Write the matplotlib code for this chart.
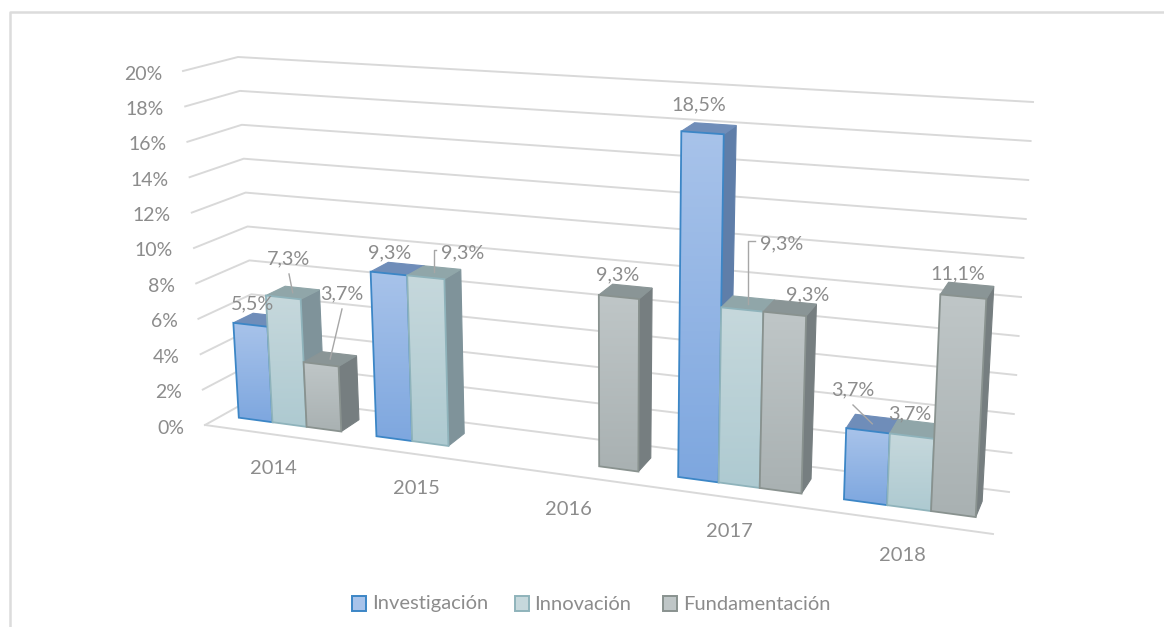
import numpy as np
import matplotlib
matplotlib.use('Agg')
import matplotlib.pyplot as plt
from matplotlib.patches import Polygon, Rectangle

plt.rcParams['font.family'] = ['Lato', 'DejaVu Sans']

years = ['2014', '2015', '2016', '2017', '2018']
series = ['Investigación', 'Innovación', 'Fundamentación']
investigacion = [5.5, 9.3, None, 18.5, 3.7]
innovacion = [7.3, 9.3, None, 9.3, 3.7]
fundamentacion = [3.7, None, 9.3, 9.3, 11.1]
yticks = [0, 2, 4, 6, 8, 10, 12, 14, 16, 18, 20]

# corners of the 3d box in image pixels: (x, y) at 0% and at 20%
front_left = ((205, 425), (183, 71))
front_right = ((993, 534), (1012, 128))
back_left = ((257, 396), (238, 57))
back_right = ((1009, 492), (1033, 102))
persp = 1.17
height_fix = 0.985  # plain bilinear box runs a little tall at the bars

# colours: front top, front bottom, edge, side, top
colors = [
    ('#a8c3ea', '#7ea7df', '#3c86c6', '#5f7ea9', '#6f8db9'),
    ('#c6d8dc', '#aecad1', '#8fb3bb', '#7f939a', '#90a6a9'),
    ('#bfc6c7', '#a9b1b2', '#89928f', '#767e80', '#8a9596'),
]
text_color = '#8c8c8c'
grid_color = '#d9d9d9'


def project(u, d, v):
    # u along the categories, d depth (0 front, 1 back), v value in %
    t = u / (persp - (persp - 1) * u)
    s = v / 20.0
    pts = []
    for c in (front_left, front_right, back_left, back_right):
        pts.append(np.array(c[0]) * (1 - s) + np.array(c[1]) * s)
    front = pts[0] * (1 - t) + pts[1] * t
    back = pts[2] * (1 - t) + pts[3] * t
    return front * (1 - d) + back * d


def draw_bar(ax, u0, u1, d0, d1, v, col, z):
    top, bottom, edge, side, cap = col
    v = v * height_fix
    f00, f10 = project(u0, d0, 0), project(u1, d0, 0)
    f01, f11 = project(u0, d0, v), project(u1, d0, v)
    b10, b11 = project(u1, d1, 0), project(u1, d1, v)
    b01 = project(u0, d1, v)
    ax.add_patch(Polygon([f10, b10, b11, f11], fc=side, ec=side, lw=0.8, zorder=z))
    ax.add_patch(Polygon([f01, f11, b11, b01], fc=cap, ec=cap, lw=0.8, zorder=z))
    # front face with vertical gradient
    xs = [f00[0], f10[0], f11[0], f01[0]]
    ys = [f00[1], f10[1], f11[1], f01[1]]
    poly = Polygon(list(zip(xs, ys)), fc='none', ec=edge, lw=1.3, zorder=z + 0.2)
    ax.add_patch(poly)
    c0 = np.array(matplotlib.colors.to_rgb(top))
    c1 = np.array(matplotlib.colors.to_rgb(bottom))
    grad = np.linspace(0, 1, 64)[:, None, None] * (c1 - c0) + c0
    im = ax.imshow(grad, extent=(min(xs), max(xs), max(ys), min(ys)),
                   aspect='auto', zorder=z + 0.1, interpolation='bilinear')
    im.set_clip_path(poly)
    return project((u0 + u1) / 2, (d0 + d1) / 2, v)


fig = plt.figure(figsize=(11.64, 6.27), dpi=100)
ax = fig.add_axes([0, 0, 1, 1])

# chart frame
ax.plot([10, 10, 1164], [627, 12, 12], color='#dcdcdc', lw=1.8, zorder=0)

# walls and floor
for v in yticks:
    a = project(0, 0, v)
    b = project(0, 1, v)
    c = project(1, 1, v)
    ax.plot([a[0], b[0], c[0]], [a[1], b[1], c[1]], color=grid_color, lw=1.4, zorder=1)
    ax.text(a[0] - 21, a[1] + 3, '%d%%' % v, ha='right', va='center',
            color=text_color, fontsize=14)
a, c = project(0, 0, 0), project(1, 0, 0)
ax.plot([a[0], c[0]], [a[1], c[1]], color=grid_color, lw=1.4, zorder=1)

# year labels under the floor
for i, y in enumerate(years):
    p = project((i + 0.5) / 5, 0, 0)
    ax.text(p[0], p[1] + 34, y, ha='center', va='center', color=text_color, fontsize=14.5)

# bars
values = [investigacion, innovacion, fundamentacion]
anchors = {}
z = 2
for i in range(len(years)):
    for k in range(len(series)):
        v = values[k][i]
        if v is None:
            continue
        u0 = (i + 0.125 + 0.25 * k) / 5
        u1 = (i + 0.125 + 0.25 * (k + 1)) / 5
        anchors[(i, k)] = draw_bar(ax, u0, u1, 0.33, 0.71, v, colors[k], z)
        z += 1

# data labels: (year, series): label centre in image pixels, leader type
label_pos = {
    (0, 0): ((252, 304), None),
    (0, 1): ((289, 259), 'line'),
    (0, 2): ((342, 294), 'line'),
    (1, 0): ((390, 253), None),
    (1, 1): ((463, 253), 'elbow'),
    (2, 2): ((618, 275), None),
    (3, 0): ((699, 105), None),
    (3, 1): ((782, 244), 'elbow'),
    (3, 2): ((808, 295), None),
    (4, 0): ((853, 390), 'line'),
    (4, 1): ((910, 414), None),
    (4, 2): ((958, 274), None),
}
for key, (pos, leader) in label_pos.items():
    v = values[key[1]][key[0]]
    ax.text(pos[0], pos[1], ('%.1f%%' % v).replace('.', ','), ha='center', va='center',
            color=text_color, fontsize=14.2, zorder=200)
    p = anchors[key]
    if leader == 'line':
        sy = pos[1] + 15 if p[1] > pos[1] else pos[1] - 15
        ax.plot([pos[0], p[0]], [sy, p[1]], color='#a6a6a6', lw=1, zorder=199)
    elif leader == 'elbow':
        ax.plot([pos[0] - 27, p[0], p[0]], [pos[1] - 3, pos[1] - 3, p[1]],
                color='#a6a6a6', lw=1, zorder=199)

# legend
legend_box_x = [352, 515, 663]
legend_text_x = [372, 534, 683]
for k, name in enumerate(series):
    ax.add_patch(Rectangle((legend_box_x[k], 596), 14, 15, fc=colors[k][0],
                           ec=colors[k][2], lw=1.4))
    ax.text(legend_text_x[k], 604, name, ha='left', va='center',
            color=text_color, fontsize=14.5)

ax.set_xlim(0, 1164)
ax.set_ylim(627, 0)
ax.axis('off')

plt.savefig('out.png', dpi=100)
